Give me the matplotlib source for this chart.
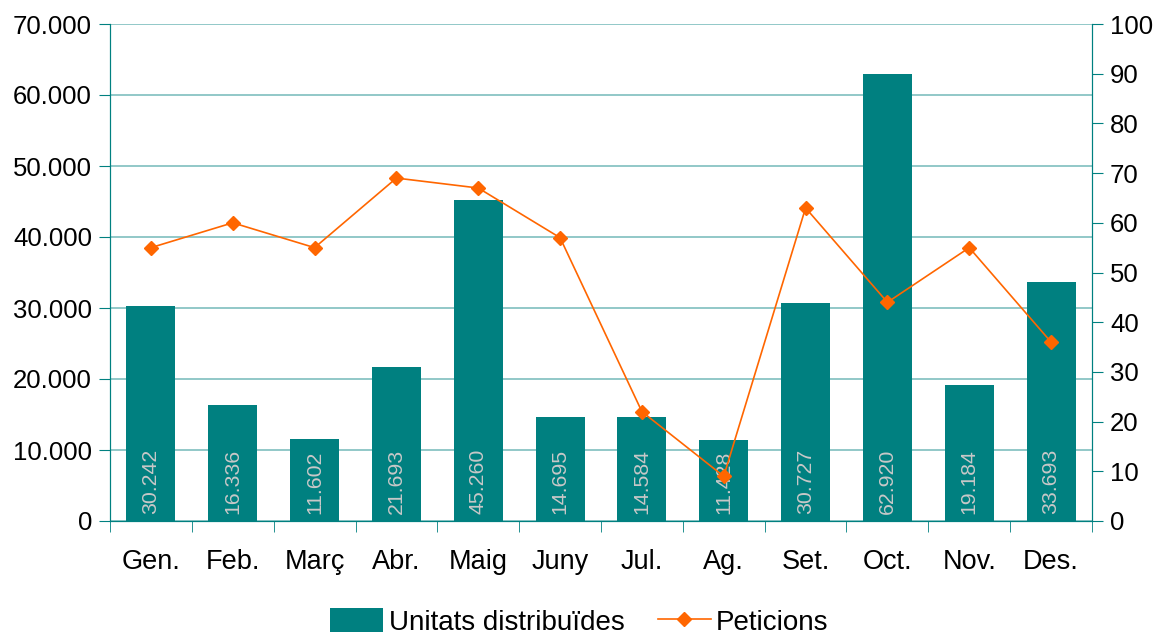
import matplotlib
matplotlib.use("Agg")
import matplotlib.pyplot as plt
import numpy as np
from matplotlib.ticker import FuncFormatter, FixedLocator

plt.rcParams['font.family'] = ['Liberation Sans', 'DejaVu Sans']

months = ["Gen.", "Feb.", "Març", "Abr.", "Maig", "Juny", "Jul.", "Ag.", "Set.", "Oct.", "Nov.", "Des."]
unitats = [30242, 16336, 11602, 21693, 45260, 14695, 14584, 11428, 30727, 62920, 19184, 33693]
peticions = [55, 60, 55, 69, 67, 57, 22, 9, 63, 44, 55, 36]

teal = "#008080"
grid_c = "#7fbfbf"
orange = "#FF6600"

fig = plt.figure(figsize=(11.59, 6.34), dpi=100)
ax = fig.add_axes([110/1159, 1-521/634, (1092-110)/1159, (521-24)/634])
x = np.arange(len(months))
bars = ax.bar(x, unitats, width=0.6, color=teal, zorder=2, label="Unitats distribuïdes")
ax.set_xlim(-0.5, len(months)-0.5)
ax.set_ylim(0, 70000)
ax.set_yticks(np.arange(0, 70001, 10000))
ax.yaxis.set_major_formatter(FuncFormatter(lambda v, p: f"{int(v):,}".replace(",", ".")))
ax.grid(axis='y', color=grid_c, linewidth=1.2, zorder=0)
ax.set_axisbelow(True)
for s in ax.spines.values():
    s.set_color(teal)
ax.spines['top'].set_visible(False)

for xi, v in zip(x, unitats):
    ax.text(xi, 1000, f"{v:,}".replace(",", "."), rotation=90, ha='center', va='bottom',
            color="#c8c8c8", fontsize=15.3, zorder=3)

ax.set_xticks(x)
ax.set_xticklabels(months, fontsize=19.5)
ax.tick_params(axis='x', length=0, pad=20)
ax.xaxis.set_minor_locator(FixedLocator(np.arange(-0.5, len(months), 1)))
ax.tick_params(axis='x', which='minor', length=8, color=teal, direction='out')
ax.tick_params(axis='y', labelsize=18.5, length=8, color=teal, direction='out', pad=5)

ax2 = ax.twinx()
line, = ax2.plot(x, peticions, color=orange, marker='D', markersize=7.5, linewidth=1.2, zorder=4, label="Peticions")
ax2.set_ylim(0, 100)
ax2.set_yticks(np.arange(0, 101, 10))
ax2.tick_params(axis='y', labelsize=18.5, length=8, color=teal, direction='out', pad=5)
for s in ax2.spines.values():
    s.set_color(teal)
ax2.spines['top'].set_visible(False)

fig.legend([bars, line], ["Unitats distribuïdes", "Peticions"], loc='center', bbox_to_anchor=(0.5, 1-622/634),
           ncol=2, frameon=False, fontsize=20, handlelength=1.9, handleheight=0.9, columnspacing=1.2, handletextpad=0.2)

fig.savefig("out.png", dpi=100)
